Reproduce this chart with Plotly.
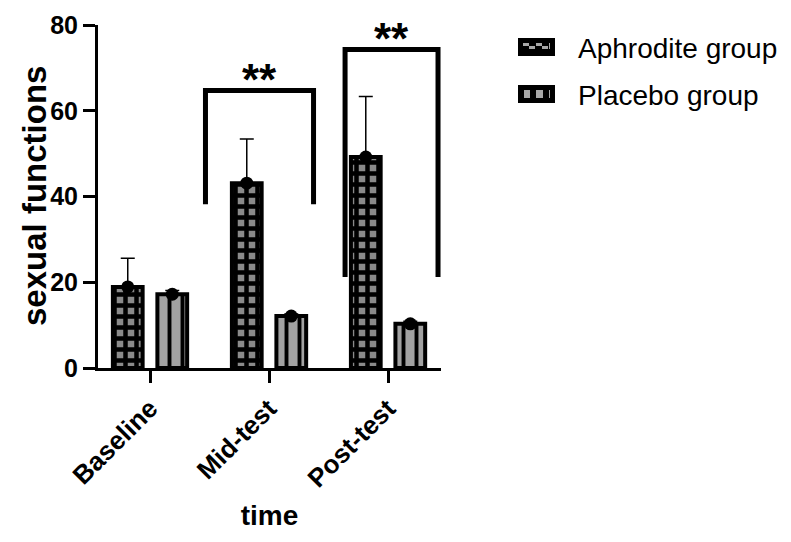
import plotly.graph_objects as go

# ---------------- data ----------------
categories = ["Baseline", "Mid-test", "Post-test"]
series_names = ["Aphrodite group", "Placebo group"]
aphrodite_mean = [18.9, 43.1, 49.2]
aphrodite_sd = [6.7, 10.3, 14.1]
placebo_mean = [17.2, 12.1, 10.3]
placebo_sd = [0.9, 0.5, 0.6]
sig_labels = ["**", "**"]
sig_top = [64.7, 74.3]
sig_leg_bottom = [38.2, 21.2]
y_ticks = [0, 20, 40, 60, 80]
x_title = "time"
y_title = "sexual functions"

# ---------------- layout helpers ----------------
# the page body adds an 8px margin, so the figure is drawn 8px smaller/shifted
PAGE_OFF = 8
W, H = 791 - PAGE_OFF, 542 - PAGE_OFF
L, R, T, B = 98 - PAGE_OFF, 350, 25 - PAGE_OFF, 174
FONT = "Liberation Sans, Arial, sans-serif"
GRAY_A = "#8a8a8a"
GRAY_P = "#a2a2a2"
offset = 0.187
bar_w = 0.25

xa = [i - offset for i in range(len(categories))]
xp = [i + offset for i in range(len(categories))]

fig = go.Figure()

fig.add_trace(go.Bar(
    x=xa, y=aphrodite_mean, width=bar_w, name=series_names[0],
    marker=dict(color=GRAY_A, line=dict(color="black", width=4),
                pattern=dict(shape="+", fgcolor="black", bgcolor=GRAY_A,
                             size=11, solidity=0.65, fillmode="replace")),
    showlegend=False,
))
fig.add_trace(go.Bar(
    x=xp, y=placebo_mean, width=bar_w, name=series_names[1],
    marker=dict(color=GRAY_P, line=dict(color="black", width=4),
                pattern=dict(shape="|", fgcolor="black", bgcolor=GRAY_P,
                             size=13, solidity=0.3, fillmode="replace")),
    showlegend=False,
))

for xs, m, sd in [(xa, aphrodite_mean, aphrodite_sd), (xp, placebo_mean, placebo_sd)]:
    fig.add_trace(go.Scatter(
        x=xs, y=m, mode="markers",
        marker=dict(color="black", size=13, symbol="circle"),
        error_y=dict(type="data", array=sd, arrayminus=[0] * len(sd),
                     symmetric=False, color="black", thickness=1.5, width=7),
        showlegend=False, cliponaxis=False, hoverinfo="skip",
    ))

# significance brackets (x spans in axis units)
pairs = [(0.466, 1.374), (1.639, 2.42)]
shapes = []
annotations = []
for (x0, x1), top, bot, lab in zip(pairs, sig_top, sig_leg_bottom, sig_labels):
    shapes.append(dict(type="path", xref="x", yref="y",
                       path=f"M {x0},{bot} L {x0},{top} L {x1},{top} L {x1},{bot}",
                       line=dict(color="black", width=5)))
    annotations.append(dict(x=(x0 + x1) / 2, y=top, xref="x", yref="y",
                            text=lab, showarrow=False, yanchor="middle",
                            yshift=11,
                            font=dict(family=FONT, size=44, color="black", weight=700)))

# page pixel -> paper conversion
def px(xp_):
    return (xp_ - PAGE_OFF - L) / (W - L - R)

def py(yp_):
    return (H - B - (yp_ - PAGE_OFF)) / (H - T - B)

# y-axis title
annotations.append(dict(x=px(35), y=py(196), xref="paper", yref="paper",
                        text=y_title, textangle=-90, showarrow=False,
                        xanchor="center", yanchor="middle",
                        font=dict(family=FONT, size=33, color="black", weight=700)))

# manual legend
leg_y = [47, 94]
for i, name in enumerate(series_names):
    cy = leg_y[i]
    shapes.append(dict(type="rect", xref="paper", yref="paper",
                       x0=px(518), x1=px(555), y0=py(cy - 9), y1=py(cy + 9),
                       fillcolor="black", line=dict(width=0)))
    if i == 0:
        inner = [(523, 529, cy - 4, cy - 1), (529, 535, cy - 1, cy + 2),
                 (536, 542, cy - 4, cy - 1), (542, 548, cy - 1, cy + 2),
                 (549, 550, cy - 4, cy + 2)]
    else:
        inner = [(524, 530, cy - 4, cy + 4), (536, 543, cy - 4, cy + 4),
                 (549, 550, cy - 4, cy + 4)]
    for a, b, c, d in inner:
        shapes.append(dict(type="rect", xref="paper", yref="paper",
                           x0=px(a), x1=px(b), y0=py(c), y1=py(d),
                           fillcolor="#a8a8a8", line=dict(width=0)))
    annotations.append(dict(x=px(576), y=py(cy + 1), xref="paper", yref="paper",
                            text=name, showarrow=False, xanchor="left",
                            yanchor="middle",
                            font=dict(family=FONT, size=28, color="black")))

fig.update_layout(
    width=W, height=H,
    margin=dict(l=L, r=R, t=T, b=B, pad=0),
    paper_bgcolor="white", plot_bgcolor="white",
    barmode="overlay",
    shapes=shapes, annotations=annotations,
    showlegend=False,
    xaxis=dict(
        range=[-0.437, 2.445], tickmode="array", automargin=False,
        tickvals=list(range(len(categories))), ticktext=categories,
        tickangle=-45, ticks="outside", ticklen=12, tickwidth=3,
        tickcolor="black", showline=True, linewidth=3, linecolor="black",
        showgrid=False, zeroline=False,
        tickfont=dict(family=FONT, size=26, color="black", weight=700),
        title=dict(text=x_title, standoff=14,
                   font=dict(family=FONT, size=28, color="black", weight=700)),
    ),
    yaxis=dict(
        range=[0, 80], tickmode="array", tickvals=y_ticks, automargin=False,
        ticks="outside", ticklen=12, tickwidth=3, tickcolor="black",
        showline=True, linewidth=3, linecolor="black",
        showgrid=False, zeroline=False,
        tickfont=dict(family=FONT, size=25, color="black", weight=700),
    ),
)

fig.write_html("out.html")
